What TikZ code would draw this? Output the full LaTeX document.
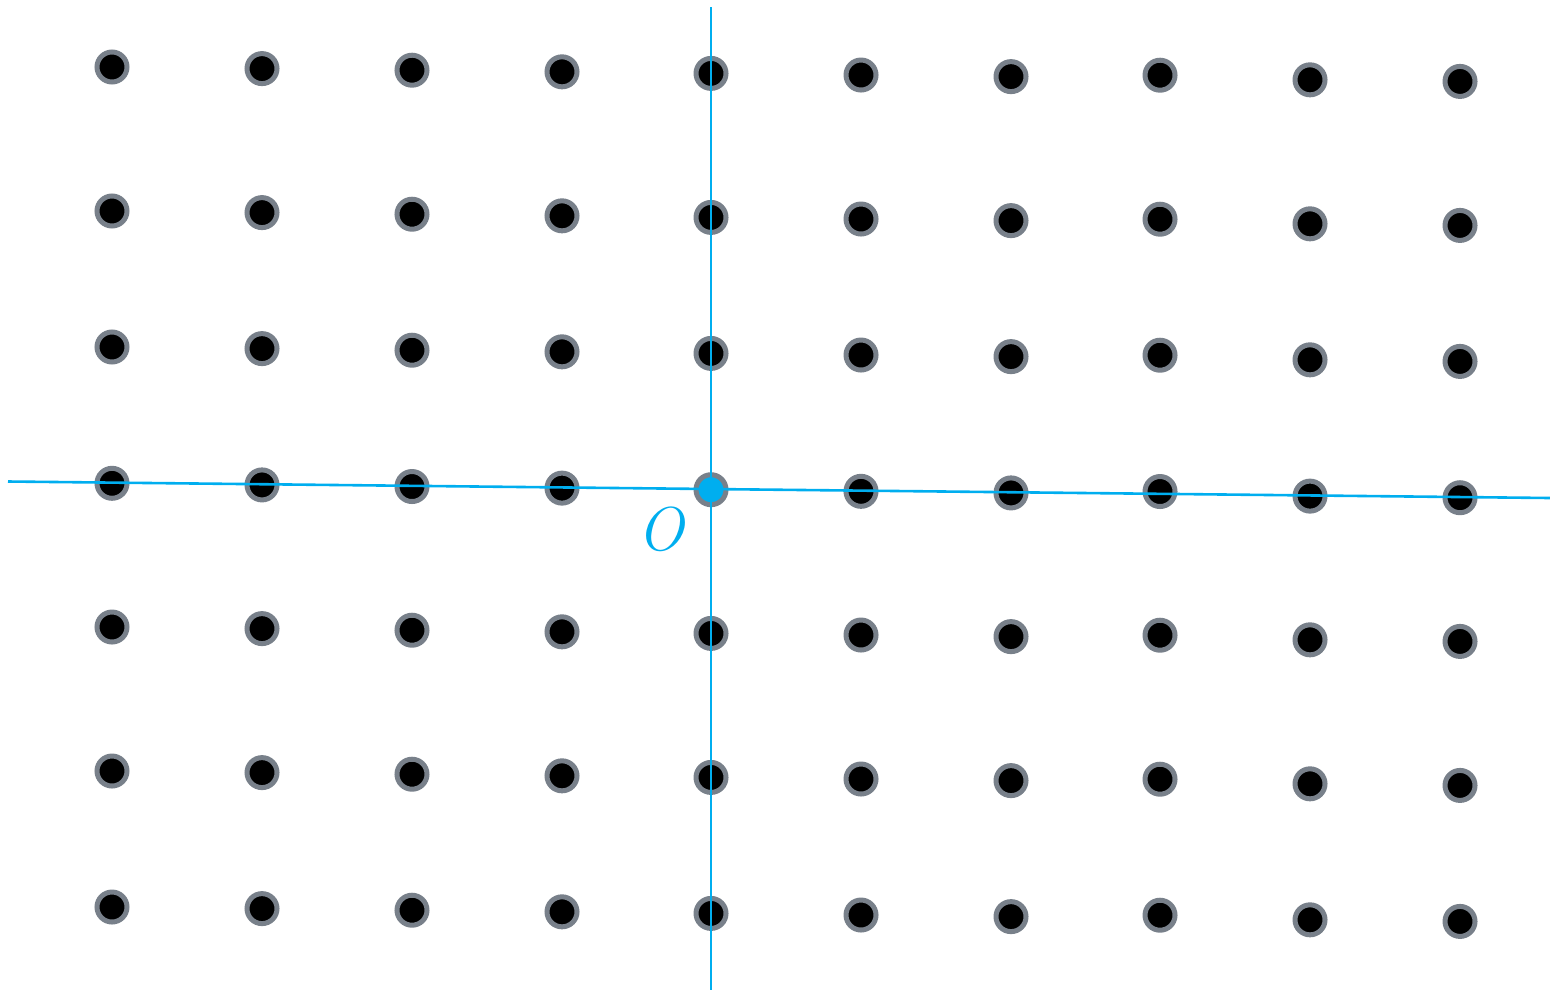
\documentclass[tikz,border=0pt]{standalone}
\usepackage{tikz}
\definecolor{ringgray}{RGB}{120,128,138}
\definecolor{axisblue}{RGB}{0,174,239}
\tikzset{
  dot/.style={circle, draw=ringgray, fill=black, line width=2.5pt, minimum size=15pt, inner sep=0pt},
  origindot/.style={circle, draw=ringgray, fill=axisblue, line width=2.5pt, minimum size=15pt, inner sep=0pt},
  axis/.style={draw=axisblue, line width=1.3pt}
}
\begin{document}
\begin{tikzpicture}[x=0.5pt,y=-0.5pt]
\useasboundingbox (0,0) rectangle (1550,991);
\foreach \c/\xx/\off in {0/112/0,1/262/0,2/412/0,3/562/0,4/711/0,5/861/0,6/1011/0,7/1160/-3,8/1310/0,9/1460/0}{
  \foreach \r/\ry in {0/67,1/211,2/347,3/483.3,4/627,5/771,6/907}{
    \pgfmathsetmacro{\yy}{\ry+0.0107*(\xx-112)+\off}
    \ifnum\c=4 \ifnum\r=3
      \node[origindot] (d-\c-\r) at (\xx,\yy) {};
    \else
      \node[dot] (d-\c-\r) at (\xx,\yy) {};
    \fi\else
      \node[dot] (d-\c-\r) at (\xx,\yy) {};
    \fi
  }
}
\coordinate (hl) at (8,481.5);
\coordinate (hr) at (1550,498);
\coordinate (vt) at (711,7);
\coordinate (vb) at (711,990);
\draw[axis] (hl) -- (hr);
\draw[axis] (vt) -- (vb);
\node[text=axisblue, inner sep=0pt] (olabel) at (661,529) {\fontsize{31}{33}\selectfont\itshape O};
\end{tikzpicture}
\end{document}
